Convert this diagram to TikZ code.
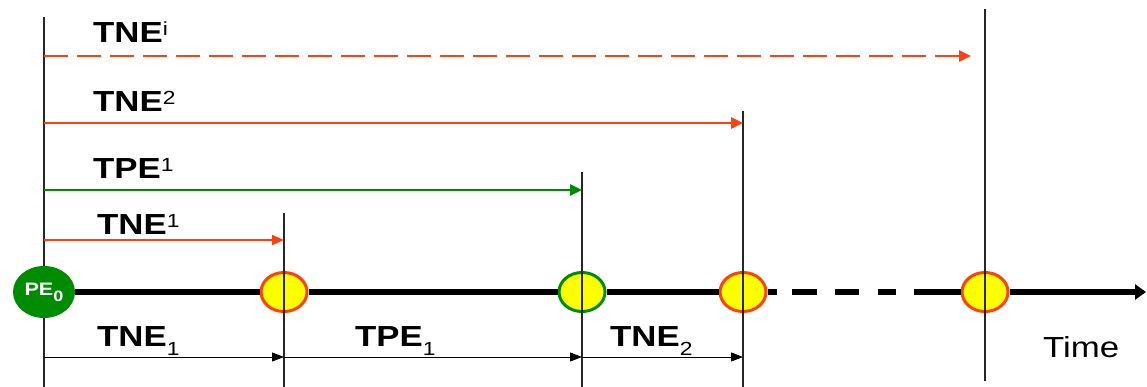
\documentclass[tikz,border=0pt]{standalone}
\usepackage{fontspec}
\setmainfont{Liberation Sans}
\usetikzlibrary{arrows.meta,shapes.geometric}
\definecolor{rd}{RGB}{255,64,16}
\definecolor{gr}{RGB}{0,140,0}
\definecolor{yl}{RGB}{255,255,0}
\newcommand{\wide}[1]{\scalebox{1.2}[1]{#1}}
\newcommand{\mysup}[1]{\raisebox{7.5pt}{\fontsize{19}{19}\selectfont\mdseries #1}}
\newcommand{\mysub}[1]{\raisebox{-9pt}{\fontsize{19}{19}\selectfont\mdseries #1}}
\begin{document}
\begin{tikzpicture}[x=1pt,y=-1pt,
  lbl/.style={anchor=base west,inner sep=0pt,font=\fontsize{29}{29}\selectfont\bfseries},
  event/.style={ellipse,draw=rd,fill=yl,line width=3pt,minimum width=46pt,minimum height=39pt,inner sep=0pt},
  pevent/.style={event,draw=gr},
  vline/.style={line width=1.2pt,black!85},
  tl/.style={line width=6pt,line cap=butt},
  dimarrow/.style={line width=0.9pt,-{Triangle[length=12pt,width=9pt]}},
  redarrow/.style={rd,line width=2.5pt,-{Triangle[length=12pt,width=11pt]}},
  greenarrow/.style={gr,line width=2.5pt,-{Triangle[length=12pt,width=11pt]}}
]
\useasboundingbox (0,0) rectangle (1147,387);
% event nodes
\node[ellipse,fill=gr,minimum width=62pt,minimum height=52pt,inner sep=0pt,text=white,font=\fontsize{18}{18}\selectfont\bfseries] (e0) at (44,292) {\wide{PE\raisebox{-6pt}{\fontsize{15}{15}\selectfont 0}}};
\node[event] (e1) at (284,292) {};
\node[pevent] (e2) at (582,292) {};
\node[event] (e3) at (743,292) {};
\node[event] (e4) at (985,292) {};
% coordinates
\coordinate (v0t) at (44,17);  \coordinate (v0b) at (44,387);
\coordinate (v1t) at (284,213); \coordinate (v1b) at (284,387);
\coordinate (v2t) at (582,172); \coordinate (v2b) at (582,387);
\coordinate (v3t) at (743,111); \coordinate (v3b) at (743,387);
\coordinate (v4t) at (985,9);   \coordinate (v4b) at (985,381);
\coordinate (s1) at (44,56);  \coordinate (f1) at (971,56);
\coordinate (s2) at (44,123); \coordinate (f2) at (743,123);
\coordinate (s3) at (44,190); \coordinate (f3) at (582,190);
\coordinate (s4) at (44,240); \coordinate (f4) at (284,240);
\coordinate (b0) at (44,357); \coordinate (b1) at (284,357);
\coordinate (b2) at (582,357); \coordinate (b3) at (743,357);
\coordinate (d0) at (777,292);
\coordinate (d1a) at (792,292); \coordinate (d1b) at (817,292);
\coordinate (d2a) at (835,292); \coordinate (d2b) at (859,292);
\coordinate (d3a) at (878,292); \coordinate (d3b) at (896,292);
\coordinate (d4) at (914,292);
\coordinate (tend) at (1146,292);
% timeline
\draw[tl] (e0.east) -- (e1.west);
\draw[tl] (e1.east) -- (e2.west);
\draw[tl] (e2.east) -- (e3.west);
\draw[tl] (e3.east) -- (d0);
\draw[tl] (d1a) -- (d1b);
\draw[tl] (d2a) -- (d2b);
\draw[tl] (d3a) -- (d3b);
\draw[tl] (d4) -- (e4.west);
\draw[tl,-{Triangle[length=11pt,width=15pt]}] (e4.east) -- (tend);
% vertical lines
\draw[vline] (v0t) -- (e0.north);
\draw[vline] (e0.south) -- (v0b);
\draw[vline] (v1t) -- (v1b);
\draw[vline] (v2t) -- (v2b);
\draw[vline] (v3t) -- (v3b);
\draw[vline] (v4t) -- (v4b);
% interval arrows
\draw[redarrow,dash pattern=on 24pt off 9pt] (s1) -- (f1);
\draw[redarrow] (s2) -- (f2);
\draw[greenarrow] (s3) -- (f3);
\draw[redarrow,line width=2pt,-{Triangle[length=12pt,width=10pt]}] (s4) -- (f4);
\draw[dimarrow] (b0) -- (b1);
\draw[dimarrow] (b1) -- (b2);
\draw[dimarrow] (b2) -- (b3);
% labels
\node[lbl] (l1) at (93,43) {\wide{TNE\mysup{i}}};
\node[lbl] (l2) at (93,112) {\wide{TNE\mysup{2}}};
\node[lbl] (l3) at (93,179) {\wide{TPE\mysup{1}}};
\node[lbl] (l4) at (97,235) {\wide{TNE\mysup{1}}};
\node[lbl] (l5) at (97,346) {\wide{TNE\mysub{1}}};
\node[lbl] (l6) at (355,346) {\wide{TPE\mysub{1}}};
\node[lbl] (l7) at (610,346) {\wide{TNE\mysub{2}}};
\node[lbl,font=\fontsize{29}{29}\selectfont] (l8) at (1043,357) {\wide{Time}};
\end{tikzpicture}
\end{document}
